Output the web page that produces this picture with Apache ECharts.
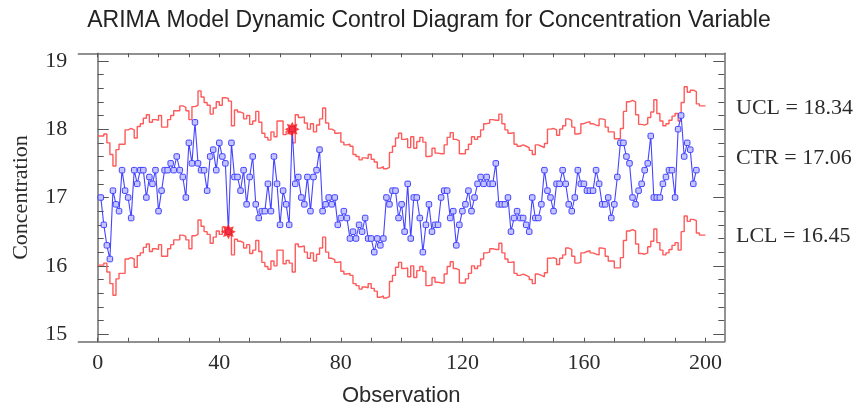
<!DOCTYPE html>
<html><head><meta charset="utf-8">
<script src="https://cdn.jsdelivr.net/npm/echarts@6/dist/echarts.min.js"></script>
<style>html,body{margin:0;padding:0;background:#fff}#c{width:858px;height:408px}</style>
</head><body><div id="c"></div>
<script>
// Observed concentration values (observations 1..197)
const concentration = [
17.0,16.6,16.3,16.1,17.1,16.9,16.8,17.4,17.1,17.0,
16.7,17.4,17.2,17.4,17.4,17.0,17.3,17.2,17.4,16.8,
17.1,17.4,17.4,17.5,17.4,17.6,17.4,17.3,17.0,17.8,
17.5,18.1,17.5,17.4,17.4,17.1,17.6,17.7,17.4,17.8,
17.6,17.5,16.5,17.8,17.3,17.3,17.1,17.4,16.9,17.3,
17.6,16.9,16.7,16.8,16.8,17.2,16.8,17.6,17.2,16.6,
17.1,16.9,16.6,18.0,17.2,17.3,17.0,16.9,17.3,16.8,
17.3,17.4,17.7,16.8,16.9,17.0,16.9,17.0,16.6,16.7,
16.8,16.7,16.4,16.5,16.4,16.6,16.5,16.7,16.4,16.4,
16.2,16.4,16.3,16.4,17.0,16.9,17.1,17.1,16.7,16.9,
16.5,17.2,16.4,17.0,17.0,16.7,16.2,16.6,16.9,16.5,
16.6,16.6,17.0,17.1,17.1,16.7,16.8,16.3,16.6,16.8,
16.9,17.1,16.8,17.0,17.2,17.3,17.2,17.3,17.2,17.2,
17.5,16.9,16.9,16.9,17.0,16.5,16.7,16.8,16.7,16.7,
16.6,16.5,17.0,16.7,16.7,16.9,17.4,17.1,17.0,16.8,
17.2,17.2,17.4,17.2,16.9,16.8,17.0,17.4,17.2,17.2,
17.1,17.1,17.1,17.4,17.2,16.9,16.9,17.0,16.7,16.9,
17.3,17.8,17.8,17.6,17.5,17.0,16.9,17.1,17.2,17.4,
17.5,17.9,17.0,17.0,17.0,17.2,17.3,17.4,17.4,17.0,
18.0,18.2,17.6,17.8,17.7,17.2,17.4
];
// Dynamic upper control limit, as drawn at x = 0..200
const ucl = [
17.90,
17.90,17.93,17.80,17.63,17.46,17.70,17.78,17.78,17.99,18.01,
17.99,17.87,18.04,18.08,18.16,18.21,18.10,18.14,18.13,18.20,
18.03,18.03,18.14,18.20,18.27,18.27,18.34,18.32,18.27,18.14,
18.33,18.35,18.56,18.47,18.39,18.35,18.22,18.31,18.40,18.35,
18.46,18.45,18.41,18.05,18.28,18.25,18.23,18.15,18.20,18.07,
18.12,18.26,18.10,17.94,17.88,17.84,17.96,17.89,18.12,18.12,
17.92,17.97,17.93,17.80,18.21,18.17,18.18,18.09,18.00,18.08,
17.96,18.06,18.15,18.31,18.09,18.00,17.98,17.94,17.95,17.81,
17.77,17.78,17.75,17.63,17.60,17.55,17.58,17.57,17.63,17.56,
17.52,17.43,17.45,17.42,17.44,17.66,17.75,17.87,17.94,17.85,
17.86,17.73,17.89,17.72,17.82,17.88,17.81,17.60,17.61,17.72,
17.65,17.64,17.64,17.77,17.88,17.95,17.85,17.83,17.64,17.64,
17.70,17.78,17.89,17.85,17.89,17.99,18.08,18.09,18.14,18.13,
18.13,18.22,18.08,17.99,17.94,17.95,17.78,17.75,17.77,17.75,
17.73,17.69,17.63,17.77,17.75,17.73,17.79,18.00,18.01,17.99,
17.91,18.00,18.05,18.15,18.13,18.03,17.93,17.94,18.08,18.10,
18.11,18.08,18.06,18.05,18.15,18.14,18.03,17.96,17.96,17.86,
17.86,18.01,18.26,18.40,18.42,18.40,18.21,18.07,18.06,18.08,
18.17,18.25,18.43,18.23,18.12,18.05,18.08,18.13,18.19,18.23,
18.12,18.39,18.62,18.54,18.57,18.55,18.37,18.34,18.34,18.34
];
// Dynamic lower control limit, as drawn at x = 0..200
const lcl = [
16.01,
16.01,16.04,15.91,15.74,15.57,15.81,15.89,15.89,16.10,16.12,
16.10,15.98,16.15,16.19,16.27,16.32,16.21,16.25,16.24,16.31,
16.14,16.14,16.25,16.31,16.38,16.38,16.45,16.43,16.38,16.25,
16.44,16.46,16.67,16.58,16.50,16.46,16.33,16.42,16.51,16.46,
16.57,16.56,16.52,16.16,16.39,16.36,16.34,16.26,16.31,16.18,
16.23,16.37,16.21,16.05,15.99,15.95,16.07,16.00,16.23,16.23,
16.03,16.08,16.04,15.91,16.32,16.28,16.29,16.20,16.11,16.19,
16.07,16.17,16.26,16.42,16.20,16.11,16.09,16.05,16.06,15.92,
15.88,15.89,15.86,15.74,15.71,15.66,15.69,15.68,15.74,15.67,
15.63,15.54,15.56,15.53,15.55,15.77,15.86,15.98,16.05,15.96,
15.97,15.84,16.00,15.83,15.93,15.99,15.92,15.71,15.72,15.83,
15.76,15.75,15.75,15.88,15.99,16.06,15.96,15.94,15.75,15.75,
15.81,15.89,16.00,15.96,16.00,16.10,16.19,16.20,16.25,16.24,
16.24,16.33,16.19,16.10,16.05,16.06,15.89,15.86,15.88,15.86,
15.84,15.80,15.74,15.88,15.86,15.84,15.90,16.11,16.12,16.10,
16.02,16.11,16.16,16.26,16.24,16.14,16.04,16.05,16.19,16.21,
16.22,16.19,16.17,16.16,16.26,16.25,16.14,16.07,16.07,15.97,
15.97,16.12,16.37,16.51,16.53,16.51,16.32,16.18,16.17,16.19,
16.28,16.36,16.54,16.34,16.23,16.16,16.19,16.24,16.30,16.34,
16.23,16.50,16.73,16.65,16.68,16.66,16.48,16.45,16.45,16.45
];
// Out-of-control observations
const flagged = [43, 64];
// Axis ticks and labels
const xTicks = [0,10,20,30,40,50,60,70,80,90,100,110,120,130,140,150,160,170,180,190,200];
const xLabels = [0,40,80,120,160,200];
const yMajor = [15,16,17,18,19];
const yMinor = [15.2,15.4,15.6,15.8,16.2,16.4,16.6,16.8,17.2,17.4,17.6,17.8,18.2,18.4,18.6,18.8];
const limitLabels = ['UCL = 18.34','CTR = 17.06','LCL = 16.45'];

const X_MIN = -6.4, X_MAX = 206.2, Y_MIN = 14.89, Y_MAX = 19.11;
const serif = '"Liberation Serif","Times New Roman",serif';
const sans = '"Liberation Sans",Arial,sans-serif';
const frame = {show:true, lineStyle:{color:'#6e6e6e', width:1.5}};

function starPath(){
  let p = '';
  for (let k = 0; k < 16; k++) {
    const a = Math.PI * k / 8;
    const r = (k % 2 === 0) ? 10 : 6;
    p += (k === 0 ? 'M' : 'L') + (10 + r * Math.cos(a)).toFixed(2) + ',' + (10 + r * Math.sin(a)).toFixed(2) + ' ';
  }
  return 'path://' + p + 'Z';
}

function xAx(pos, labels){
  return {type:'value', position:pos, min:X_MIN, max:X_MAX,
    axisLine:frame, splitLine:{show:false},
    axisTick:{show:true, inside:true, length:4, customValues:xTicks, lineStyle:{color:'#555'}},
    axisLabel:labels ? {show:true, customValues:xLabels, fontFamily:serif, fontSize:22, color:'#2b2b2b', margin:11} : {show:false},
    name: labels ? 'Observation' : '', nameLocation:'middle', nameGap:43,
    nameTextStyle:{fontFamily:sans, fontSize:22, color:'#2b2b2b'}};
}
function yAx(pos, major, labels){
  return {type:'value', position:pos, min:Y_MIN, max:Y_MAX,
    axisLine: major ? frame : {show:false}, splitLine:{show:false},
    axisTick:{show:true, inside:true, length: major ? 11 : 6, customValues: major ? yMajor : yMinor, lineStyle:{color:'#555'}},
    axisLabel: labels ? {show:true, customValues:yMajor, fontFamily:serif, fontSize:22, color:'#2b2b2b', margin:11} : {show:false},
    name: labels ? 'Concentration' : '', nameLocation:'middle', nameGap:46, nameRotate:90,
    nameTextStyle:{fontFamily:serif, fontSize:22, color:'#2b2b2b'}};
}

const chart = echarts.init(document.getElementById('c'), null, {renderer:'canvas'});
chart.setOption({
  animation:false,
  backgroundColor:'#fff',
  title:{text:'ARIMA Model Dynamic Control Diagram for Concentration Variable', left:'center', top:4,
    textStyle:{fontFamily:sans, fontSize:23, fontWeight:'normal', color:'#222'}},
  grid:{left:78.3, right:133.7, top:53.3, bottom:66.3, containLabel:false, outerBoundsMode:'none'},
  xAxis:[xAx('bottom', true), xAx('top', false)],
  yAxis:[yAx('left', true, true), yAx('left', false, false), yAx('right', true, false), yAx('right', false, false)],
  series:[
    {type:'line', name:'UCL', data:ucl.map((v,i)=>[i,v]), step:'end', showSymbol:false, symbol:'none',
      lineStyle:{color:'#ff5a5a', width:1.4}, z:2},
    {type:'line', name:'LCL', data:lcl.map((v,i)=>[i,v]), step:'end', showSymbol:false, symbol:'none',
      lineStyle:{color:'#ff5a5a', width:1.4}, z:2},
    {type:'line', name:'Concentration', data:concentration.map((v,i)=>[i+1,v]),
      symbol:'roundRect', symbolSize:5.5, showSymbol:true,
      lineStyle:{color:'#4545ff', width:1.1},
      itemStyle:{color:'#c4c4ff', borderColor:'#4040ff', borderWidth:1}, z:3},
    {type:'scatter', name:'Out of control', data:flagged.map(t=>[t, concentration[t-1]]),
      symbol:starPath(), symbolSize:15, itemStyle:{color:'#ff1010'}, z:4}
  ],
  graphic: limitLabels.map((t,i)=>({type:'text', left:736, top:[97,147,225][i],
    style:{text:t, fontFamily:serif, fontSize:22, fill:'#2b2b2b'}}))
});
</script>
</body></html>
